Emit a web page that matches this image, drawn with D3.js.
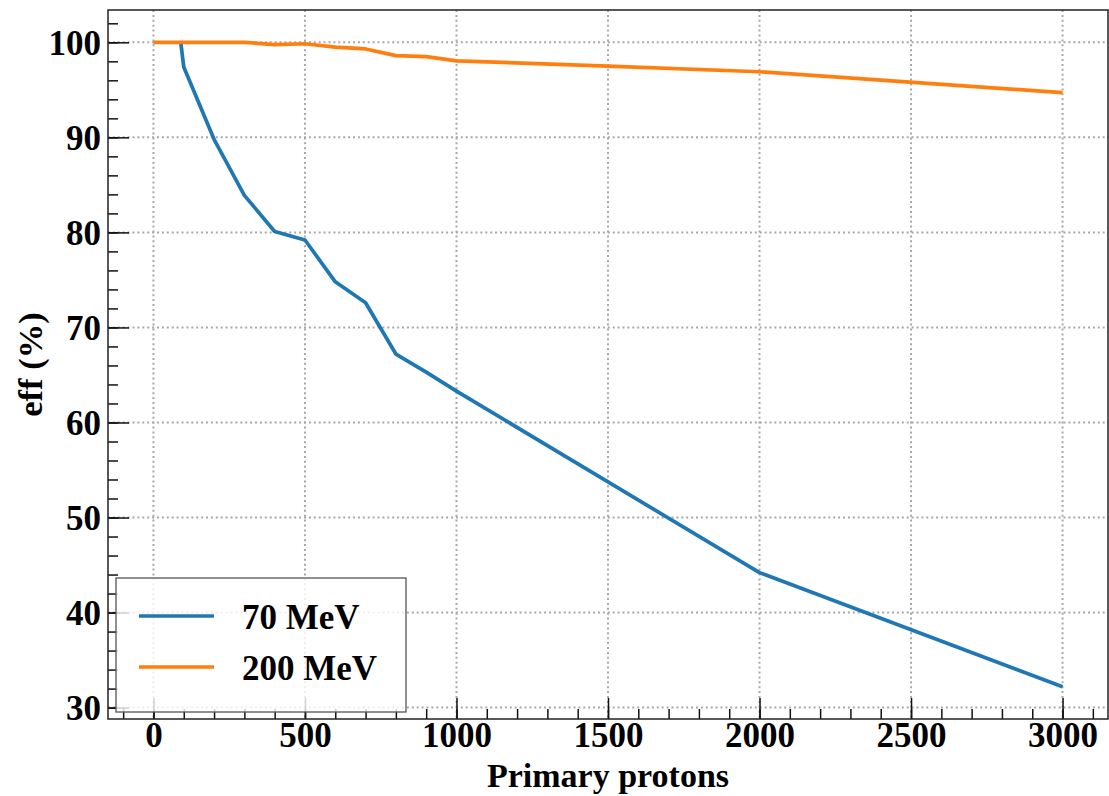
<!DOCTYPE html>
<html>
<head>
<meta charset="utf-8">
<script src="https://cdn.jsdelivr.net/npm/d3@7"></script>
<style>
  body { margin: 0; background: #fff; }
  svg text { font-family: "Liberation Serif", "Times New Roman", serif; font-weight: bold; }
</style>
</head>
<body>
<div id="chart"></div>
<script>
// data
const protons70 = [90, 100, 200, 300, 400, 500, 600, 700, 800, 900, 1000, 2000, 3000];
const eff70 = [100, 97.4, 89.8, 83.9, 80.1, 79.2, 74.8, 72.6, 67.2, 65.3, 63.3, 44.2, 32.2];
const protons200 = [0, 100, 200, 300, 400, 500, 600, 700, 800, 900, 1000, 1500, 2000, 3000];
const eff200 = [100, 100, 100, 100, 99.75, 99.85, 99.5, 99.3, 98.6, 98.5, 98.05, 97.5, 96.9, 94.7];
const seriesNames = ["70 MeV", "200 MeV"];
const seriesColors = ["#1f77b4", "#ff7f0e"];
const xTicks = [0, 500, 1000, 1500, 2000, 2500, 3000];
const yTicks = [30, 40, 50, 60, 70, 80, 90, 100];

const config = {
  width: 1109,
  height: 796,
  margin: { top: 10, right: 1, bottom: 77, left: 108 },
  fontSize: 35,
};

const svg = d3
  .select("#chart")
  .append("svg")
  .attr("width", config.width)
  .attr("height", config.height);

const plotLeft = config.margin.left;
const plotRight = config.width - config.margin.right;
const plotTop = config.margin.top;
const plotBottom = config.height - config.margin.bottom;

// x and y scales (matplotlib-like 5% padding)
const x = d3.scaleLinear().domain([-150, 3150]).range([plotLeft, plotRight]);
const y = d3.scaleLinear().domain([28.8, 103.4]).range([plotBottom, plotTop]);

// grid (dotted, major ticks only)
const grid = svg.append("g").attr("class", "grid");
grid
  .selectAll("line.gx")
  .data(xTicks)
  .join("line")
  .attr("class", "gx")
  .attr("x1", (d) => x(d))
  .attr("x2", (d) => x(d))
  .attr("y1", plotTop)
  .attr("y2", plotBottom)
  .attr("stroke", "#a8a8a8")
  .attr("stroke-width", 2)
  .attr("stroke-dasharray", "2,2.9");
grid
  .selectAll("line.gy")
  .data(yTicks)
  .join("line")
  .attr("class", "gy")
  .attr("x1", plotLeft)
  .attr("x2", plotRight)
  .attr("y1", (d) => y(d))
  .attr("y2", (d) => y(d))
  .attr("stroke", "#a8a8a8")
  .attr("stroke-width", 2)
  .attr("stroke-dasharray", "2,2.9");

// lines
const line = d3
  .line()
  .x((d) => x(d[0]))
  .y((d) => y(d[1]));

const series = [
  d3.zip(protons70, eff70),
  d3.zip(protons200, eff200),
];

svg
  .selectAll("path.series")
  .data(series)
  .join("path")
  .attr("class", "series")
  .attr("fill", "none")
  .attr("stroke", (d, i) => seriesColors[i])
  .attr("stroke-width", 3.7)
  .attr("stroke-linejoin", "round")
  .attr("d", line);

// axes: inward ticks
const xMinor = d3.range(-100, 3150, 100);
const yMinor = d3.range(30, 103.4, 2);

const xAxis = d3
  .axisBottom(x)
  .tickValues(xMinor)
  .tickSize(-10)
  .tickFormat("");
svg
  .append("g")
  .attr("transform", `translate(0, ${plotBottom})`)
  .call(xAxis)
  .call((g) => g.select(".domain").remove())
  .selectAll("line")
  .attr("stroke", "#111")
  .attr("stroke-width", 1.5);

const xAxisMajor = d3
  .axisBottom(x)
  .tickValues(xTicks)
  .tickSize(-21)
  .tickPadding(0)
  .tickFormat(d3.format("d"));
const gx = svg
  .append("g")
  .attr("transform", `translate(0, ${plotBottom})`)
  .call(xAxisMajor)
  .call((g) => g.select(".domain").remove());
gx.selectAll("line").attr("stroke", "#111").attr("stroke-width", 1.5);
gx.selectAll("text")
  .attr("y", 28)
  .attr("dy", 0)
  .attr("fill", "#000")
  .style("font-size", config.fontSize + "px");

const yAxis = d3
  .axisLeft(y)
  .tickValues(yMinor)
  .tickSize(-10)
  .tickFormat("");
svg
  .append("g")
  .attr("transform", `translate(${plotLeft}, 0)`)
  .call(yAxis)
  .call((g) => g.select(".domain").remove())
  .selectAll("line")
  .attr("stroke", "#111")
  .attr("stroke-width", 1.5);

const yAxisMajor = d3
  .axisLeft(y)
  .tickValues(yTicks)
  .tickSize(-21)
  .tickFormat(d3.format("d"));
const gy = svg
  .append("g")
  .attr("transform", `translate(${plotLeft}, 0)`)
  .call(yAxisMajor)
  .call((g) => g.select(".domain").remove());
gy.selectAll("line").attr("stroke", "#111").attr("stroke-width", 1.5);
gy.selectAll("text")
  .attr("x", -7)
  .attr("dy", "0.34em")
  .attr("fill", "#000")
  .style("font-size", config.fontSize + "px");

// frame
svg
  .append("rect")
  .attr("x", plotLeft)
  .attr("y", plotTop)
  .attr("width", plotRight - plotLeft)
  .attr("height", plotBottom - plotTop)
  .attr("fill", "none")
  .attr("stroke", "#222")
  .attr("stroke-width", 1.5);

// axis labels
svg
  .append("text")
  .attr("x", (plotLeft + plotRight) / 2)
  .attr("y", 787)
  .attr("text-anchor", "middle")
  .style("font-size", "34px")
  .text("Primary protons");

svg
  .append("text")
  .attr("transform", `translate(42, ${(plotTop + plotBottom) / 2}) rotate(-90)`)
  .attr("text-anchor", "middle")
  .style("font-size", "34.5px")
  .text("eff (%)");

// legend
const legend = svg
  .append("g")
  .attr("transform", `translate(${plotLeft + 8}, ${plotBottom - 141})`);
legend
  .append("rect")
  .attr("width", 290)
  .attr("height", 134)
  .attr("fill", "#fff")
  .attr("fill-opacity", 0.8)
  .attr("stroke", "#555")
  .attr("stroke-width", 1.3);

const items = legend
  .selectAll("g.item")
  .data(seriesNames)
  .join("g")
  .attr("class", "item")
  .attr("transform", (d, i) => `translate(0, ${38 + i * 51})`);
items
  .append("line")
  .attr("x1", 23)
  .attr("x2", 98)
  .attr("stroke", (d, i) => seriesColors[i])
  .attr("stroke-width", 3.7);
items
  .append("text")
  .attr("x", 126)
  .attr("y", 13)
  .style("font-size", "35px")
  .text((d) => d);
</script>
</body>
</html>
